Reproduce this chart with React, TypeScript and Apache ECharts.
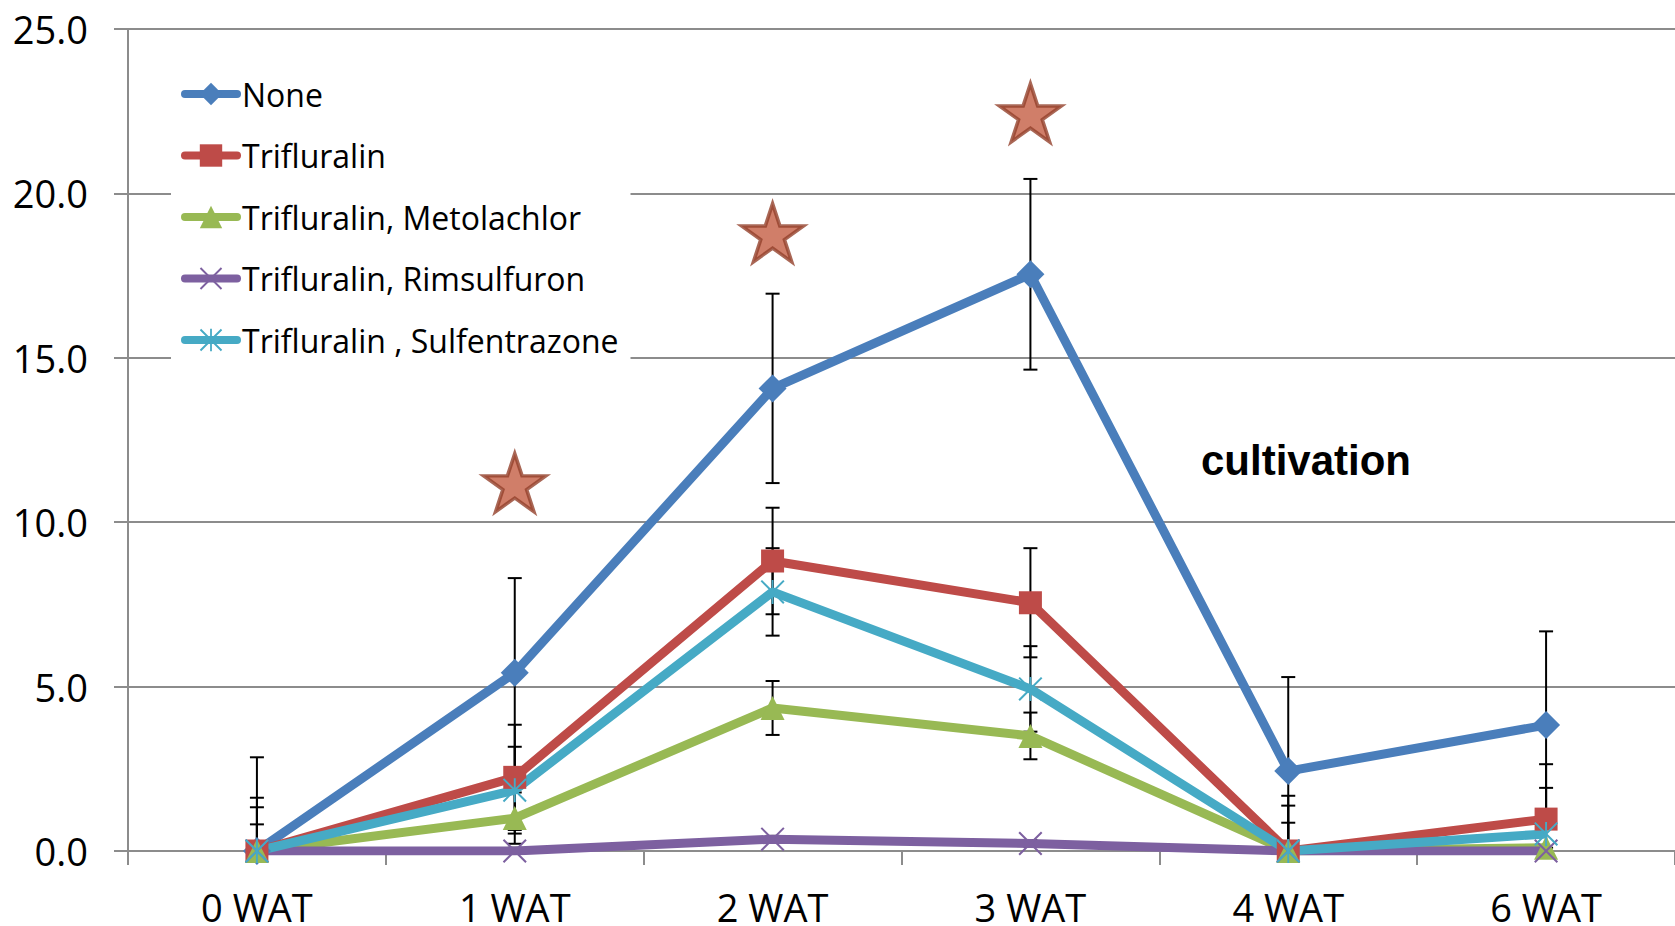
import React, { useEffect, useRef } from "react";
import * as echarts from "echarts";

// Weeks after treatment
const categories = ["0 WAT", "1 WAT", "2 WAT", "3 WAT", "4 WAT", "6 WAT"];

const seriesNames = [
  "None",
  "Trifluralin",
  "Trifluralin, Metolachlor",
  "Trifluralin, Rimsulfuron",
  "Trifluralin , Sulfentrazone",
];

// Means per week
const none = [0, 5.42, 14.07, 17.54, 2.43, 3.83];
const trifluralin = [0, 2.24, 8.82, 7.55, 0, 0.97];
const metolachlor = [0, 1.0, 4.35, 3.5, 0, 0.1];
const rimsulfuron = [0, 0, 0.36, 0.23, 0, 0];
const sulfentrazone = [0, 1.85, 7.88, 4.93, 0, 0.52];

// Error bar half-widths per week
const noneErr = [2.85, 2.88, 2.88, 2.9, 2.86, 2.85];
const trifluralinErr = [1.62, 1.6, 1.62, 1.66, 1.68, 1.67];
const metolachlorErr = [0.81, 0.78, 0.82, 0.71, 0.86, 0.8];
const rimsulfuronErr = [0.1, 0.1, 0.1, 0.1, 0.1, 0.1];
const sulfentrazoneErr = [1.33, 1.32, 1.33, 1.3, 1.38, 1.4];

// Significance stars (week index, height)
const starWeeks = [1, 2, 3];
const starHeights = [11.2, 18.8, 22.45];

const yTicks = { min: 0, max: 25, interval: 5 };

const FONT = "'Open Sans', 'Liberation Sans', sans-serif";

const COLORS = ["#4a7ebb", "#be4b48", "#98b954", "#7d60a0", "#46aac5"];

const X_PATH =
  "path://M0,6 L6,0 L100,94 L94,100 Z M94,0 L100,6 L6,100 L0,94 Z";
const ASTERISK_PATH =
  "path://M0,6 L6,0 L100,94 L94,100 Z M94,0 L100,6 L6,100 L0,94 Z M46,0 L54,0 L54,100 L46,100 Z";
const STAR_PATH =
  "path://M50,0 L61.2,34.5 L97.6,34.5 L68.2,55.9 L79.4,90.5 L50,69.1 L20.6,90.5 L31.8,55.9 L2.4,34.5 L38.8,34.5 Z";

export default function App() {
  const ref = useRef<HTMLDivElement>(null);

  useEffect(() => {
    if (!ref.current) return;
    const chart = echarts.init(ref.current, undefined, { renderer: "svg" });

    const means = [none, trifluralin, metolachlor, rimsulfuron, sulfentrazone];
    const errs = [noneErr, trifluralinErr, metolachlorErr, rimsulfuronErr, sulfentrazoneErr];
    const symbols = ["diamond", "rect", "triangle", X_PATH, ASTERISK_PATH];
    const symbolSizes = [28, 23, 24, 24, 24];

    const errorData: number[][] = [];
    means.forEach((m, s) => {
      m.forEach((v, i) => {
        errorData.push([i, v - errs[s][i], v + errs[s][i]]);
      });
    });

    const lineSeries = seriesNames.map((name, s) => ({
      name,
      type: "line",
      data: means[s],
      symbol: symbols[s],
      symbolSize: symbolSizes[s],
      z: 3,
      lineStyle: { color: COLORS[s], width: 9 },
      itemStyle: { color: COLORS[s] },
      emphasis: { disabled: true },
    }));

    chart.setOption({
      animation: false,
      backgroundColor: "#ffffff",
      grid: { left: 128, right: -8, top: 29, bottom: 74, containLabel: false },
      legend: {
        data: seriesNames,
        orient: "vertical",
        left: 171,
        top: 46,
        padding: [32, 12, 20, 10],
        backgroundColor: "#ffffff",
        itemWidth: 52,
        itemHeight: 28,
        itemGap: 29.5,
        selectedMode: false,
        lineStyle: { width: 8, cap: "round" },
        textStyle: { fontFamily: FONT, fontSize: 32, color: "#000", lineHeight: 32 },
      },
      xAxis: {
        type: "category",
        data: categories,
        boundaryGap: true,
        axisLine: { show: true, lineStyle: { color: "#8c8c8c", width: 2 } },
        axisTick: { show: true, length: 14, lineStyle: { color: "#8c8c8c", width: 2 } },
        axisLabel: { fontFamily: FONT, fontSize: 38, color: "#000", margin: 37 },
        splitLine: { show: false },
      },
      yAxis: {
        type: "value",
        min: yTicks.min,
        max: yTicks.max,
        interval: yTicks.interval,
        axisLine: { show: true, lineStyle: { color: "#8c8c8c", width: 2 } },
        axisTick: { show: true, length: 14, lineStyle: { color: "#8c8c8c", width: 2 } },
        axisLabel: {
          fontFamily: FONT,
          fontSize: 38,
          color: "#000",
          margin: 40,
          formatter: (v: number) => v.toFixed(1),
        },
        splitLine: { show: true, lineStyle: { color: "#8c8c8c", width: 2 } },
      },
      graphic: [
        {
          type: "text",
          left: 1201,
          top: 439,
          z: 10,
          style: {
            text: "cultivation",
            fontFamily: "'Liberation Sans', Arial, sans-serif",
            fontWeight: "bold",
            fontSize: 42,
            fill: "#000",
          },
        },
      ],
      series: [
        {
          name: "error",
          type: "custom",
          z: 1,
          clip: true,
          data: errorData,
          encode: { x: 0, y: [1, 2] },
          renderItem: (params: any, api: any) => {
            const i = api.value(0);
            const lo = api.coord([i, api.value(1)]);
            const hi = api.coord([i, api.value(2)]);
            const cap = 7;
            const style = { stroke: "#000", lineWidth: 2 };
            return {
              type: "group",
              children: [
                { type: "line", shape: { x1: lo[0], y1: lo[1], x2: hi[0], y2: hi[1] }, style },
                { type: "line", shape: { x1: hi[0] - cap, y1: hi[1], x2: hi[0] + cap, y2: hi[1] }, style },
                { type: "line", shape: { x1: lo[0] - cap, y1: lo[1], x2: lo[0] + cap, y2: lo[1] }, style },
              ],
            };
          },
        },
        ...lineSeries,
        {
          name: "significance",
          type: "scatter",
          z: 4,
          data: starWeeks.map((w, k) => [w, starHeights[k]]),
          symbol: STAR_PATH,
          symbolSize: [62, 58],
          itemStyle: { color: "#c45e44", borderColor: "#94412c", borderWidth: 3.5 },
          emphasis: { disabled: true },
        },
      ],
    });

    return () => chart.dispose();
  }, []);

  return (
    <div
      ref={ref}
      style={{ position: "absolute", left: 0, top: 0, width: 1675, height: 926 }}
    />
  );
}
